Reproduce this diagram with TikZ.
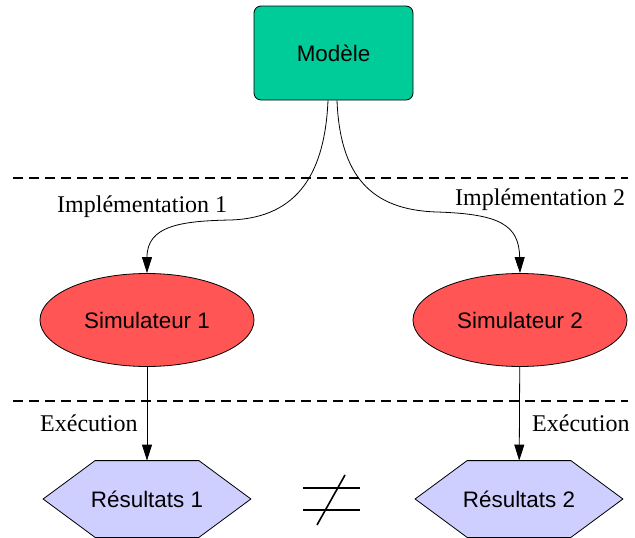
\documentclass[tikz,border=0pt]{standalone}
\usepackage{fontspec}
\setmainfont{Liberation Serif}
\setsansfont{Liberation Sans}
\usetikzlibrary{arrows.meta,shapes.geometric,backgrounds}

\definecolor{vertmodele}{RGB}{0,204,153}
\definecolor{rougesimu}{RGB}{255,85,85}
\definecolor{mauveres}{RGB}{206,206,255}

\tikzset{
  boite/.style={draw, line width=0.8pt, font=\sffamily\fontsize{22.4}{26}\selectfont, inner sep=0pt},
  modele/.style={boite, fill=vertmodele, rounded corners=7pt, minimum width=159pt, minimum height=94pt},
  simu/.style={boite, ellipse, fill=rougesimu, minimum width=214pt, minimum height=93pt},
  resultat/.style={boite, draw=none, minimum width=207pt, minimum height=76pt},
  hexa/.style={draw, line width=0.8pt, fill=mauveres},
  etiquette/.style={font=\fontsize{24}{28}\selectfont, inner sep=0pt},
  fleche/.style={line width=0.8pt, -{Triangle[length=16pt,width=10pt]}},
  separation/.style={line width=1.5pt, dash pattern=on 10pt off 6pt}
}

\begin{document}
\begin{tikzpicture}  % ------ Modele, simulateurs, resultats -----------------------------
      [x=1pt, y=-1pt]

    \useasboundingbox (0,0) rectangle (635,538);

    \coordinate (S1) at (13,178);
    \coordinate (S2) at (628,178);
    \coordinate (T1) at (13,401);
    \coordinate (T2) at (628,401);
    \coordinate (N) at (331,499);

    \node[modele] (M) at (333.5,53) {Modèle};
    \node[simu] (Sim1) at (147,320) {Simulateur 1};
    \node[simu] (Sim2) at (520,320) {Simulateur 2};
    \node[resultat] (R1) at (147,499) {Résultats 1};
    \node[resultat] (R2) at (519,499) {Résultats 2};

%   les hexagones, derriere le texte
    \begin{scope}[on background layer]
      \foreach \r in {R1,R2}
        \draw [hexa] (\r.west) -- ([xshift=52pt]\r.north west) -- ([xshift=-52pt]\r.north east)
              -- (\r.east) -- ([xshift=-52pt]\r.south east) -- ([xshift=52pt]\r.south west) -- cycle;
    \end{scope}

    \draw [separation] (S1) -- (S2);
    \draw [separation] (T1) -- (T2);

%   les deux implementations
    \draw [fleche] ([xshift=-5.5pt]M.south) .. controls (325,170) and (300,218) .. (230,220)
                   .. controls (180,221) and (147,226) .. (Sim1.north);
    \draw [fleche] ([xshift=3.5pt]M.south) .. controls (340,175) and (370,210) .. (437,212)
                   .. controls (500,214) and (519,225) .. (Sim2.north);
    \node[etiquette, anchor=base west] (I1) at (57,212) {Implémentation 1};
    \node[etiquette, anchor=base west] (I2) at (455,205) {Implémentation 2};

%   les executions
    \draw [fleche] (Sim1) -- (R1);
    \draw [fleche] (Sim2) -- (R2);
    \node[etiquette, anchor=base west] (E1) at (40,431) {Exécution};
    \node[etiquette, anchor=base west] (E2) at (532,431) {Exécution};

%   different
    \draw [line width=1.8pt] ([xshift=-28pt,yshift=11pt]N) -- ++(57,0);
    \draw [line width=1.8pt] ([xshift=-28pt,yshift=-11pt]N) -- ++(57,0);
    \draw [line width=1.6pt] ([xshift=-14pt,yshift=-26pt]N) -- ([xshift=14pt,yshift=24pt]N);

\end{tikzpicture}
\end{document}
